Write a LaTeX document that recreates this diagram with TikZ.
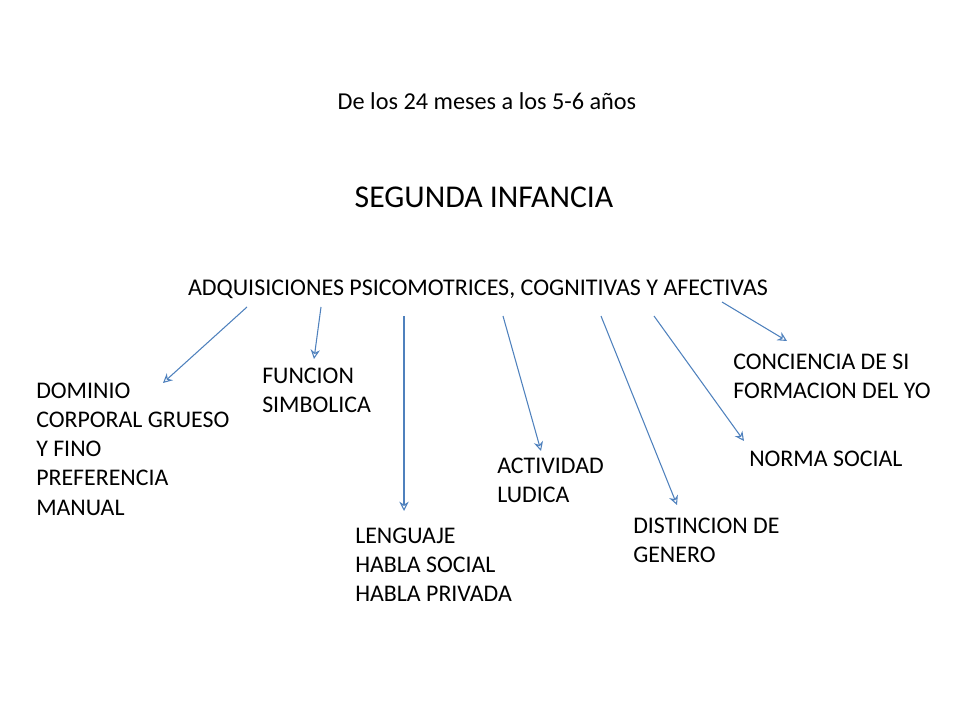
\documentclass[tikz,border=0pt]{standalone}
\usepackage{fontspec}
\setmainfont{Carlito}
\usetikzlibrary{arrows.meta}
\definecolor{arr}{RGB}{79,129,189}
\begin{document}
\begin{tikzpicture}[x=0.75pt,y=-0.75pt,
  txt/.style={anchor=north west,inner sep=0pt,align=left,font=\fontsize{17.9pt}{21.8pt}\selectfont},
  hd/.style={inner sep=0pt,font=\fontsize{18pt}{21pt}\selectfont},
  con/.style={draw=arr,line width=0.8pt,-{Stealth[open,length=7pt,width=7pt]}}]
\useasboundingbox (0,0) rectangle (960,720);
\node[hd,font=\fontsize{18.2pt}{21pt}\selectfont] (t1) at (487,101) {De los 24 meses a los 5-6 años};
\node[hd,font=\fontsize{23.8pt}{28pt}\selectfont] (t2) at (484,197) {SEGUNDA INFANCIA};
\node[hd] (t3) at (478,289) {ADQUISICIONES PSICOMOTRICES, COGNITIVAS Y AFECTIVAS};
\node[txt] (a) at (36,383) {DOMINIO\\CORPORAL GRUESO\\Y FINO\\PREFERENCIA\\MANUAL};
\node[txt] (b) at (262,368) {FUNCION\\SIMBOLICA};
\node[txt] (c) at (355,528) {LENGUAJE\\HABLA SOCIAL\\HABLA PRIVADA};
\node[txt] (d) at (497,458) {ACTIVIDAD\\LUDICA};
\node[txt] (e) at (633,518) {DISTINCION DE\\GENERO};
\node[txt] (f) at (749,451) {NORMA SOCIAL};
\node[txt] (g) at (733,354) {CONCIENCIA DE SI\\FORMACION DEL YO};
\coordinate (s1) at (247,307); \coordinate (e1) at (163,383);
\coordinate (s2) at (321,307); \coordinate (e2) at (314,359);
\coordinate (s3) at (404,316); \coordinate (e3) at (404,511);
\coordinate (s4) at (503,316); \coordinate (e4) at (541,451);
\coordinate (s5) at (601,316); \coordinate (e5) at (677,505);
\coordinate (s6) at (654,316); \coordinate (e6) at (744,441);
\coordinate (s7) at (722,302); \coordinate (e7) at (787,341);
\draw[con] (s1) -- (e1);
\draw[con] (s2) -- (e2);
\draw[con] (s3) -- (e3);
\draw[con] (s4) -- (e4);
\draw[con] (s5) -- (e5);
\draw[con] (s6) -- (e6);
\draw[con] (s7) -- (e7);
\end{tikzpicture}
\end{document}
